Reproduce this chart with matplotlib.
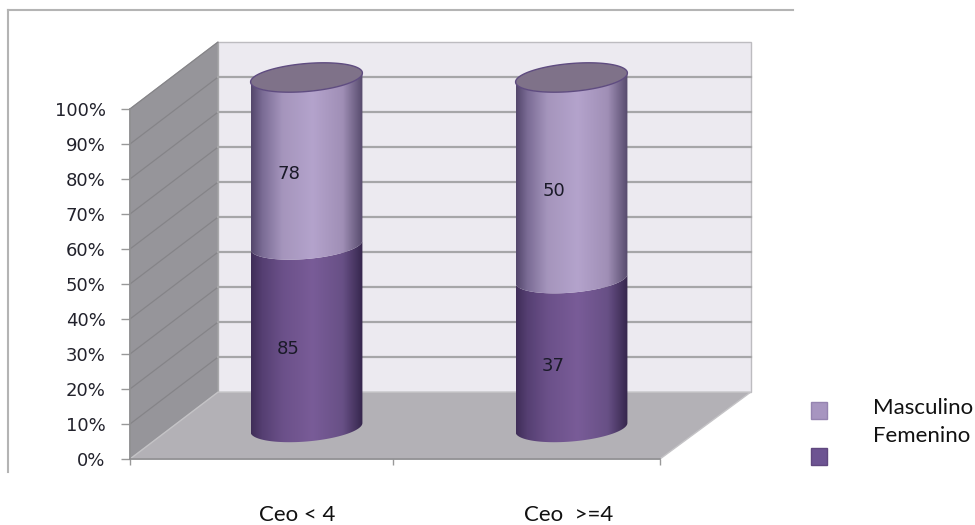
import matplotlib
matplotlib.use('Agg')
import matplotlib.pyplot as plt
import numpy as np
from matplotlib.colors import LinearSegmentedColormap
from matplotlib.lines import Line2D
from matplotlib.patches import Polygon, Rectangle

# datos
categories = ['Ceo < 4', 'Ceo  >=4']
femenino = [85, 37]
masculino = [78, 50]
pct_ticks = [0, 10, 20, 30, 40, 50, 60, 70, 80, 90, 100]
legend_labels = ['Masculino', 'Femenino']

# profundidad del falso 3D, en unidades de datos
DX = 0.332
DY = 19.1
RX = 0.211   # semiejes del cilindro
RY = 4.0
TILT = 1.29
BASE = 9.0

W, H = 975, 525
fig = plt.figure(figsize=(W / 100, H / 100), dpi=100, facecolor='white')
ax = fig.add_axes([130 / W, (H - 459) / H, 530 / W, 350 / H])
ax.set_xlim(0, 2)
ax.set_ylim(0, 100)
ax.patch.set_visible(False)

# paredes y piso
ax.add_patch(Polygon([(DX, DY), (2 + DX + 0.01, DY), (2 + DX + 0.01, 100 + DY), (DX, 100 + DY)],
                     fc='#ECEAF0', ec='#BDBCC0', lw=1, clip_on=False, zorder=1))
ax.add_patch(Polygon([(0, 0), (DX, DY), (DX, 100 + DY), (0, 100)],
                     fc='#96959A', ec='#A0A0A2', lw=1, clip_on=False, zorder=1))
ax.add_patch(Polygon([(0, 0), (DX, DY), (2 + DX + 0.01, DY), (2, 0)],
                     fc='#B3B1B6', ec='#C4C3C6', lw=1, clip_on=False, zorder=1))

# rejilla
for p in pct_ticks[1:]:
    ax.plot([0, DX], [p, p + DY], color='#858488', lw=0.9, clip_on=False, zorder=1.2)
    if p < 100:
        ax.plot([DX, 2 + DX + 0.01], [p + DY, p + DY], color='#A6A6A8', lw=1.6, clip_on=False, zorder=1.2)

light_cmap = LinearSegmentedColormap.from_list('light', [(0, '#53466B'), (0.1, '#7A6B94'), (0.28, '#A595BC'),
                                                         (0.55, '#B4A3CC'), (0.82, '#A08FB6'), (1, '#564A6C')])
dark_cmap = LinearSegmentedColormap.from_list('dark', [(0, '#3F2D58'), (0.1, '#553F72'), (0.28, '#6B5089'),
                                                       (0.55, '#795C98'), (0.82, '#685086'), (1, '#35264C')])
gradient = np.linspace(0, 1, 256).reshape(1, -1)
t_low = np.linspace(np.pi, 2 * np.pi, 80)  # arco frontal


def rim(cx, level, t):
    return cx + RX * np.cos(t), BASE + level + RY * np.sin(t) + TILT * np.cos(t)


def segment(cx, low, high, cmap):
    x0, y0 = rim(cx, low, t_low)
    x1, y1 = rim(cx, high, t_low)
    pts = np.column_stack([np.r_[x0, x1[::-1]], np.r_[y0, y1[::-1]]])
    body = Polygon(pts, closed=True, fc='none', ec='none', clip_on=False, zorder=2)
    ax.add_patch(body)
    im = ax.imshow(gradient, cmap=cmap, aspect='auto', zorder=2,
                   extent=[cx - RX, cx + RX, low - 10, high + 20])
    im.set_clip_box(fig.bbox)
    im.set_clip_path(body)


for i, (f, m) in enumerate(zip(femenino, masculino)):
    cx = i + 0.5 + DX / 2
    frac = f / (f + m) * 100
    segment(cx, 0, frac, dark_cmap)
    segment(cx, frac, 100, light_cmap)
    tx, ty = rim(cx, 100, np.linspace(0, 2 * np.pi, 120))
    ax.add_patch(Polygon(np.column_stack([tx, ty]), fc='#7F7289', ec='#5F4C80', lw=1,
                         clip_on=False, zorder=3))
    ax.text(cx - 0.068, BASE + frac / 2 - 3.7, str(f), ha='center', va='center',
            fontsize=13, color='#1A1A28', zorder=4)
    ax.text(cx - 0.068, BASE + frac + (100 - frac) / 2 - 3.7, str(m), ha='center', va='center',
            fontsize=13, color='#1A1A28', zorder=4)

ax.set_xlim(0, 2)
ax.set_ylim(0, 100)

# ejes
for s in ['top', 'right']:
    ax.spines[s].set_visible(False)
for s in ['left', 'bottom']:
    ax.spines[s].set_color('#8E8E90')
    ax.spines[s].set_linewidth(1.2)
ax.set_yticks(pct_ticks)
ax.set_yticklabels([f'{p}%' for p in pct_ticks])
ax.tick_params(axis='y', length=6.5, width=1, color='#999999', pad=11, labelsize=13, labelcolor='#22222C')
ax.set_xticks([0, 0.992, 2])
ax.set_xticklabels([])
ax.tick_params(axis='x', length=4.5, width=1, color='#999999')
ax.set_xticks([0.632, 1.657], minor=True)
ax.set_xticklabels(categories, minor=True, family='Lato', fontsize=16, color='#111111')
ax.tick_params(axis='x', which='minor', length=0, pad=33)

# marco exterior
frame = '#B4B4B4'
fig.add_artist(Line2D([8 / W, 8 / W], [1 - 472 / H, 1 - 10 / H], color=frame, lw=1.5))
fig.add_artist(Line2D([8 / W, 793 / W], [1 - 10 / H, 1 - 10 / H], color=frame, lw=1.5))

# leyenda
swatches = [('#A795C0', '#9584B0', 402, 408), ('#6D5492', '#60487F', 448, 436)]
for (fc, ec, top, text_y), label in zip(swatches, legend_labels):
    fig.add_artist(Rectangle((811 / W, 1 - (top + 17) / H), 16 / W, 17 / H, fc=fc, ec=ec, lw=1,
                             transform=fig.transFigure))
    fig.text(873 / W, 1 - text_y / H, label, family='Lato', fontsize=16, color='#111111',
             ha='left', va='center')

fig.savefig('out.png', dpi=100)
